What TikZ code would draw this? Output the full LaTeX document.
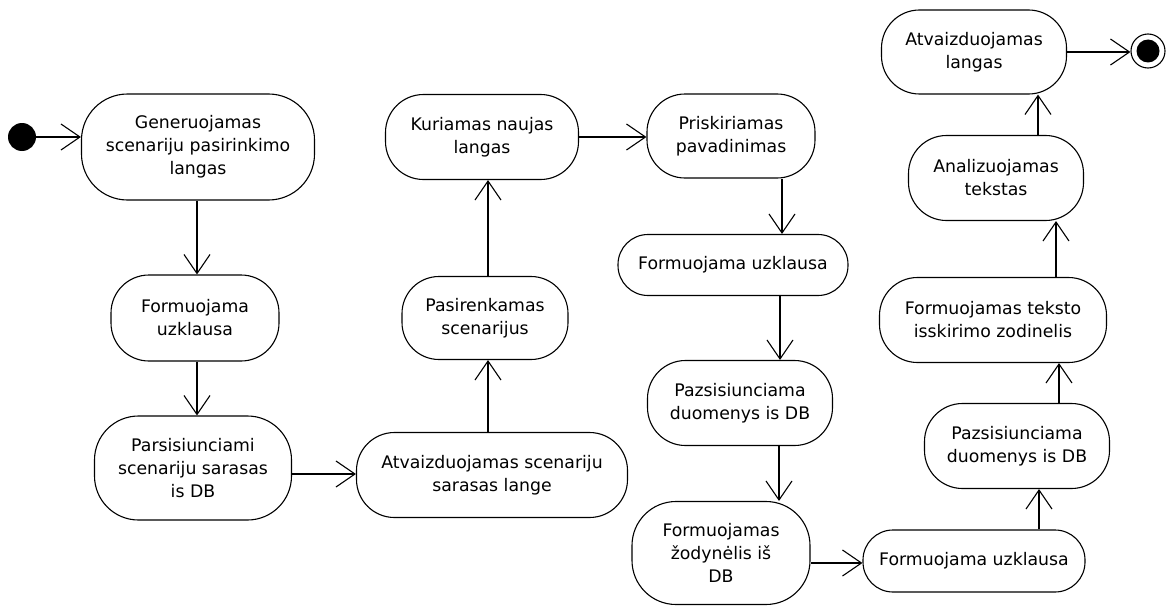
\documentclass[tikz,border=0pt]{standalone}
\usepackage{fontspec}
\setmainfont{DejaVu Sans}
\usetikzlibrary{arrows.meta}
\begin{document}
\begin{tikzpicture}[x=1pt,y=-1pt,
  act/.style n args={3}{draw, line width=1.1pt, align=center, inner sep=0pt,
    minimum width=#1pt, minimum height=#2pt, rounded corners=#3pt,
    font=\fontsize{17.3}{23}\selectfont},
  flow/.style={line width=1.1pt, -{Straight Barb[length=19pt,width=26pt,line width=1.1pt]}},
  startstate/.style={circle, fill=black, inner sep=0pt, minimum size=28pt},
  endring/.style={circle, draw, line width=1.1pt, inner sep=0pt, minimum size=34pt},
  endcore/.style={circle, fill=black, inner sep=0pt, minimum size=23pt},
]
\useasboundingbox (0,0) rectangle (1172,610);

% initial and final states
\node[startstate] (start) at (22,137) {};
\node[endring] (fin) at (1148,51) {};
\node[endcore] (fincore) at (1148,51) {};

% first column
\node[act={233}{106}{46}] (gen)  at (198,147) {Generuojamas\\scenariju pasirinkimo\\langas};
\node[act={168}{86}{38}]  (fu1)  at (195,318) {Formuojama\\uzklausa};
\node[act={197}{104}{44}] (pars) at (193,468) {Parsisiunciami\\scenariju sarasas\\is DB};

% second column
\node[act={271}{85}{38}]  (atv1) at (492,475) {Atvaizduojamas scenariju\\sarasas lange};
\node[act={166}{83}{37}]  (pas)  at (485,318) {Pasirenkamas\\scenarijus};
\node[act={193}{85}{38}]  (kur)  at (482,137) {Kuriamas naujas\\langas};

% third column
\node[act={168}{84}{38}]  (pris) at (731,136) {Priskiriamas\\pavadinimas};
\node[act={230}{61}{30}]  (fu2)  at (733,265) {Formuojama uzklausa};
\node[act={185}{85}{38}]  (pz1)  at (740,403) {Pazsisiunciama\\duomenys is DB};
\node[act={178}{103}{44}] (fz)   at (721,553) {Formuojamas\\žodynėlis iš\\DB};

% fourth column
\node[act={222}{62}{30}]  (fu3)  at (974,561) {Formuojama uzklausa};
\node[act={185}{85}{38}]  (pz2)  at (1017,446) {Pazsisiunciama\\duomenys is DB};
\node[act={227}{85}{38}]  (fti)  at (993,320) {Formuojamas teksto\\isskirimo zodinelis};
\node[act={175}{85}{38}]  (anl)  at (996,178) {Analizuojamas\\tekstas};
\node[act={185}{84}{38}]  (atv2) at (974,52) {Atvaizduojamas\\langas};

% transitions
\draw[flow] (start) -- (gen.west |- start);
\draw[flow] (gen.south -| 197,0) -- (fu1.north -| 197,0);
\draw[flow] (fu1.south -| 197,0) -- (pars.north -| 197,0);
\draw[flow] (pars.east |- 0,474) -- (atv1.west |- 0,474);
\draw[flow] (atv1.north -| 488,0) -- (pas.south -| 488,0);
\draw[flow] (pas.north -| 488,0) -- (kur.south -| 488,0);
\draw[flow] (kur.east |- 0,137) -- (pris.west |- 0,137);
\draw[flow] (pris.south -| 782,0) -- (fu2.north -| 782,0);
\draw[flow] (fu2.south -| 780,0) -- (pz1.north -| 780,0);
\draw[flow] (pz1.south -| 779,0) -- (fz.north -| 779,0);
\draw[flow] (fz.east |- 0,563) -- (fu3.west |- 0,563);
\draw[flow] (fu3.north -| 1039,0) -- (pz2.south -| 1039,0);
\draw[flow] (pz2.north -| 1059,0) -- (fti.south -| 1059,0);
\draw[flow] (fti.north -| 1056,0) -- (anl.south -| 1056,0);
\draw[flow] (anl.north -| 1038,0) -- (atv2.south -| 1038,0);
\draw[flow] (atv2.east |- 0,52) -- (fin.west |- 0,52);
\end{tikzpicture}
\end{document}
